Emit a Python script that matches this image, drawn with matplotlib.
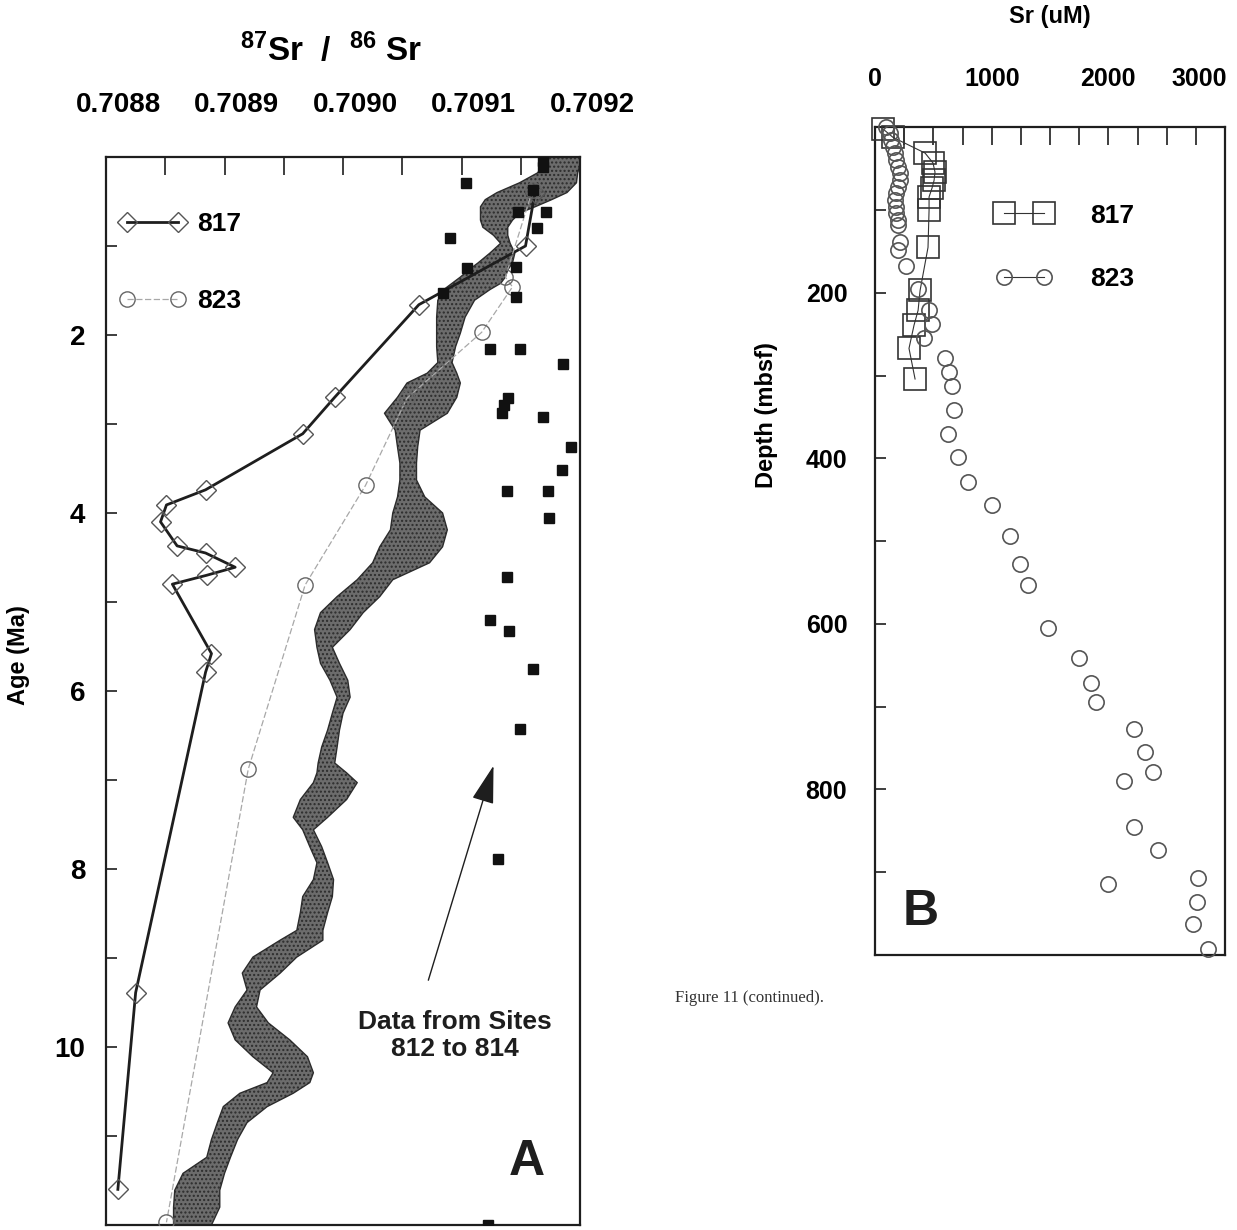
import numpy as np
import matplotlib
matplotlib.use("Agg")
import matplotlib.pyplot as plt
from matplotlib.lines import Line2D
from matplotlib.transforms import ScaledTranslation

plt.rcParams["font.family"] = "Liberation Sans"
plt.rcParams["font.weight"] = "bold"
plt.rcParams["axes.labelweight"] = "bold"
plt.rcParams["mathtext.fontset"] = "custom"
plt.rcParams["mathtext.rm"] = "Liberation Sans:bold"
plt.rcParams["mathtext.it"] = "Liberation Sans:bold"
plt.rcParams["mathtext.bf"] = "Liberation Sans:bold"

# --- Panel A: seawater Sr-isotope band (age, lower and upper 87Sr/86Sr) ---
band_age = [0.0, 0.09, 0.18, 0.29, 0.40, 0.48, 0.56, 0.63, 0.71, 0.79, 0.88, 0.97,
            1.08, 1.19, 1.27, 1.35, 1.42, 1.49, 1.61, 1.80, 1.98, 2.13, 2.31, 2.43,
            2.54, 2.70, 2.88, 3.07, 3.26, 3.44, 3.63, 3.82, 4.00, 4.19, 4.38, 4.56,
            4.75, 4.94, 5.12, 5.31, 5.51, 5.69, 5.88, 6.07, 6.25, 6.44, 6.63, 6.81,
            6.92, 7.03, 7.22, 7.42, 7.56, 7.75, 7.93, 8.12, 8.31, 8.49, 8.69, 8.80,
            8.99, 9.17, 9.36, 9.55, 9.73, 9.92, 10.11, 10.29, 10.40, 10.52, 10.67,
            10.85, 11.04, 11.24, 11.42, 11.61, 11.80, 12.0]
band_lo = [0.709173, 0.709170, 0.709164, 0.709149, 0.709130, 0.709120, 0.709116,
           0.709116, 0.709116, 0.709118, 0.709127, 0.709133, 0.709124, 0.709114,
           0.709106, 0.709099, 0.709092, 0.709085, 0.709080, 0.709079, 0.709079,
           0.709079, 0.709080, 0.709071, 0.709054, 0.709046, 0.709035, 0.709044,
           0.709046, 0.709048, 0.709048, 0.709046, 0.709042, 0.709040, 0.709031,
           0.709025, 0.709012, 0.708995, 0.708981, 0.708976, 0.708978, 0.708981,
           0.708989, 0.708995, 0.708991, 0.708987, 0.708982, 0.708979, 0.708978,
           0.708975, 0.708964, 0.708958, 0.708966, 0.708972, 0.708978, 0.708975,
           0.708966, 0.708964, 0.708961, 0.708947, 0.708924, 0.708915, 0.708919,
           0.708909, 0.708903, 0.708909, 0.708924, 0.708941, 0.708936, 0.708913,
           0.708899, 0.708894, 0.708889, 0.708885, 0.708865, 0.708858, 0.708857,
           0.708857]
band_hi = [0.709200, 0.709200, 0.709198, 0.709197, 0.709189, 0.709176, 0.709162,
           0.709149, 0.709143, 0.709139, 0.709139, 0.709141, 0.709145, 0.709143,
           0.709139, 0.709137, 0.709133, 0.709124, 0.709111, 0.709103, 0.709099,
           0.709095, 0.709092, 0.709096, 0.709099, 0.709096, 0.709088, 0.709065,
           0.709063, 0.709062, 0.709062, 0.709069, 0.709084, 0.709088, 0.709084,
           0.709073, 0.709042, 0.709031, 0.709017, 0.709006, 0.708991, 0.708997,
           0.709004, 0.709006, 0.709000, 0.708997, 0.708995, 0.708993, 0.709003,
           0.709012, 0.709003, 0.708987, 0.708975, 0.708982, 0.708987, 0.708992,
           0.708991, 0.708987, 0.708983, 0.708983, 0.708961, 0.708947, 0.708930,
           0.708927, 0.708937, 0.708955, 0.708970, 0.708975, 0.708972, 0.708958,
           0.708936, 0.708919, 0.708911, 0.708905, 0.708900, 0.708896, 0.708896,
           0.708889]

# Site 817 pore-water ratios
age_817 = [0.40, 1.00, 1.66, 2.70, 3.11, 3.74, 3.91, 4.10, 4.37, 4.45, 4.61,
           4.70, 4.80, 5.58, 5.79, 9.39, 11.60]
sr_817 = [0.709162, 0.709154, 0.709064, 0.708993, 0.708966, 0.708884, 0.708851,
          0.708846, 0.708860, 0.708884, 0.708909, 0.708885, 0.708856, 0.708889,
          0.708884, 0.708825, 0.708810]

# Site 823 pore-water ratios
age_823 = [0.37, 1.35, 1.46, 1.97, 2.71, 3.69, 4.81, 6.88, 11.97]
sr_823 = [0.709160, 0.709137, 0.709143, 0.709117, 0.709054, 0.709019, 0.708968,
          0.708920, 0.708851]

# Sites 812-814 carbonate data
age_sites = [0.04, 0.11, 0.29, 0.37, 0.62, 0.62, 0.80, 0.91, 1.25, 1.24, 1.53,
             1.57, 2.16, 2.16, 2.33, 2.71, 2.79, 2.88, 2.92, 3.26, 3.52, 3.75,
             3.75, 4.06, 4.72, 5.20, 5.33, 5.75, 6.43, 7.89, 12.0]
sr_sites = [0.709169, 0.709169, 0.709104, 0.709160, 0.709148, 0.709171, 0.709164,
            0.709090, 0.709105, 0.709146, 0.709084, 0.709146, 0.709124, 0.709149,
            0.709186, 0.709139, 0.709136, 0.709134, 0.709169, 0.709192, 0.709185,
            0.709138, 0.709173, 0.709174, 0.709138, 0.709124, 0.709140, 0.709160,
            0.709149, 0.709131, 0.709122]

arrow_tail = (0.709072, 9.25)
arrow_tip = (0.709127, 6.84)

xticks_A = [0.7088, 0.7089, 0.7090, 0.7091, 0.7092]
xtick_labels_A = ["0.7088", "0.7089", "0.7090", "0.7091", "0.7092"]
xminor_A = [0.70885, 0.70895, 0.70905, 0.70915]
yticks_A = [2, 4, 6, 8, 10]
yminor_A = [1, 3, 5, 7, 9, 11]

# --- Panel B: dissolved Sr vs depth ---
depth_817 = [2, 12, 31, 43, 54, 64, 73, 84, 100, 145, 197, 221, 239, 267, 304]
srconc_817 = [69, 154, 429, 497, 514, 506, 489, 463, 463, 454, 386, 369, 334,
              291, 343]

depth_823 = [0, 7, 15, 24, 31, 39, 48, 55, 64, 72, 79, 88, 96, 104, 112, 118,
             139, 148, 167, 195, 221, 237, 255, 279, 295, 312, 342, 371, 398,
             428, 456, 494, 527, 553, 605, 641, 671, 694, 727, 755, 779, 790,
             845, 873, 907, 914, 936, 963, 993]
srconc_823 = [94, 129, 137, 154, 171, 180, 197, 214, 214, 197, 180, 171, 180,
              180, 197, 197, 214, 197, 266, 369, 463, 489, 420, 600, 634, 660,
              677, 626, 711, 797, 1003, 1157, 1243, 1311, 1483, 1749, 1851, 1894,
              2220, 2314, 2383, 2134, 2220, 2426, 2769, 1997, 2760, 2726, 2854]

xticks_B = [0, 1000, 2000, 3000]
xminor_B = [250, 500, 750, 1250, 1500, 1750, 2250, 2500, 2750]
yticks_B = [200, 400, 600, 800]
yminor_B = [100, 300, 500, 700, 900]

ink = "#1e1e1e"

fig = plt.figure(figsize=(12.37, 12.30), dpi=100)
axA = fig.add_axes([0.0857, 0.0041, 0.3832, 0.8683])
axB = fig.add_axes([0.7074, 0.2236, 0.2829, 0.6728])

# ---------------- Panel A ----------------
axA.fill_betweenx(band_age, band_lo, band_hi, facecolor="#6c6c6c",
                  edgecolor="#2c2c2c", hatch="....", lw=1.0, zorder=1)
l817, = axA.plot(sr_817, age_817, color=ink, lw=2.0, marker="D", ms=10,
                 mfc="none", mec="#555555", mew=1.0, zorder=3, label="817")
l823, = axA.plot(sr_823, age_823, color="#a8a8a8", lw=0.9, ls=(0, (5, 2)),
                 marker="o", ms=11, mfc="none", mec="#666666", mew=1.0,
                 zorder=3, label="823")
axA.plot(sr_sites, age_sites, ls="none", marker="s", ms=6.5, color="#111111",
         zorder=4)
axA.annotate("", xy=arrow_tip, xytext=arrow_tail,
             arrowprops=dict(arrowstyle="-|>,head_length=1.2,head_width=0.35",
                             color=ink, lw=1.0, mutation_scale=20,
                             shrinkA=0, shrinkB=0))

axA.set_xlim(0.7088, 0.7092)
axA.set_ylim(12, 0)
axA.xaxis.tick_top()
axA.xaxis.set_label_position("top")
axA.set_xticks(xticks_A)
axA.set_xticklabels(xtick_labels_A)
axA.set_xticks(xminor_A, minor=True)
axA.set_yticks(yticks_A)
axA.set_yticks(yminor_A, minor=True)
axA.tick_params(axis="x", which="both", direction="in", length=13, width=1.2,
                color=ink, labelsize=20, pad=28, top=True, bottom=False)
axA.tick_params(axis="y", which="both", direction="in", length=8, width=1.2,
                color=ink, labelsize=20, pad=15, left=True, right=False)
shift = ScaledTranslation(0.12, 0, fig.dpi_scale_trans)
for lab in axA.xaxis.get_majorticklabels():
    lab.set_transform(lab.get_transform() + shift)

axA.set_xlabel(r"$^{87}$Sr  /  $^{86}$ Sr", fontsize=24, labelpad=22)
axA.xaxis.label.set_x(0.475)
axA.set_ylabel("Age (Ma)", fontsize=17)
axA.yaxis.set_label_coords(-0.16, 0.534)
for sp in axA.spines.values():
    sp.set_linewidth(1.6)
    sp.set_color(ink)

axA.legend(handles=[l817, l823], loc="upper left", bbox_to_anchor=(0.027, 0.948),
           numpoints=2, handlelength=2.55, handletextpad=0.4, labelspacing=2.0,
           frameon=False, fontsize=19, borderpad=0, borderaxespad=0)

axA.text(0.736, 0.177, "Data from Sites\n812 to 814", transform=axA.transAxes,
         ha="center", va="center", fontsize=19, linespacing=1.15, color=ink)
axA.text(0.888, 0.059, "A", transform=axA.transAxes, ha="center", va="center",
         fontsize=36, color=ink)

# ---------------- Panel B ----------------
axB.plot(srconc_817, depth_817, color="#333333", lw=0.8, marker="s", ms=16,
         mfc="none", mec="#333333", mew=1.2, clip_on=False, zorder=3)
axB.plot(srconc_823, depth_823, ls="none", marker="o", ms=11, mfc="none",
         mec="#555555", mew=1.2, clip_on=False, zorder=3)

axB.set_xlim(0, 3000)
axB.set_ylim(1000, 0)
axB.xaxis.tick_top()
axB.xaxis.set_label_position("top")
axB.set_xticks(xticks_B)
axB.set_xticks(xminor_B, minor=True)
axB.set_yticks(yticks_B)
axB.set_yticks(yminor_B, minor=True)
axB.tick_params(axis="x", which="both", direction="in", length=13, width=1.2,
                color=ink, labelsize=18, pad=26, top=True, bottom=False)
axB.tick_params(axis="y", which="both", direction="in", length=8, width=1.2,
                color=ink, labelsize=18, pad=20, left=True, right=False)
last = axB.xaxis.get_majorticklabels()[-1]
last.set_transform(last.get_transform() +
                   ScaledTranslation(-0.26, 0, fig.dpi_scale_trans))

axB.set_xlabel("Sr (uM)", fontsize=17, labelpad=32)
axB.set_ylabel("Depth (mbsf)", fontsize=17)
axB.yaxis.set_label_coords(-0.277, 0.653)
for sp in axB.spines.values():
    sp.set_linewidth(1.6)
    sp.set_color(ink)

h817 = Line2D([], [], color="#333333", lw=0.8, marker="s", ms=16, mfc="none",
              mec="#333333", mew=1.2)
h823 = Line2D([], [], color="#333333", lw=0.8, marker="o", ms=11, mfc="none",
              mec="#555555", mew=1.2)
axB.legend(handles=[h817, h823], labels=["817", "823"], loc="upper left",
           bbox_to_anchor=(0.346, 0.908), numpoints=2, handlelength=2.1,
           handletextpad=1.45, labelspacing=1.5, frameon=False, fontsize=19,
           borderpad=0, borderaxespad=0)

axB.text(0.129, 0.052, "B", transform=axB.transAxes, ha="center", va="center",
         fontsize=36, color=ink)

fig.text(0.606, 0.1886, "Figure 11 (continued).", family="Liberation Serif",
         weight="normal", fontsize=12, color="#333333", ha="center", va="center")

fig.savefig("out.png", dpi=100)
